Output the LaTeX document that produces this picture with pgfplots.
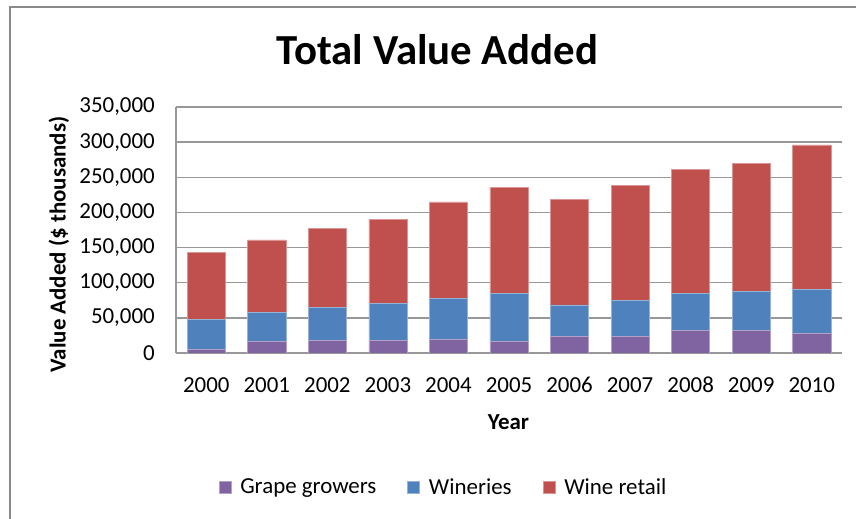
\documentclass[border=0pt]{standalone}
\usepackage{pgfplots}
\pgfplotsset{compat=1.18}
\usepackage{pgfplotstable}
\usepackage{fontspec}
\setmainfont{Carlito}
\definecolor{cgrape}{HTML}{8064A2}
\definecolor{cwinery}{HTML}{4F81BD}
\definecolor{cretail}{HTML}{C0504D}
\definecolor{cgrid}{HTML}{989898}
\pgfplotstableread{
x year grape wineries retail
0 2000 5000 43000 95000
1 2001 16000 42000 103000
2 2002 17500 47500 112000
3 2003 17500 52500 120000
4 2004 20000 58000 137000
5 2005 16000 68500 151500
6 2006 23600 44800 149600
7 2007 23600 50900 164500
8 2008 32000 52500 176200
9 2009 32000 55800 182200
10 2010 27500 63100 205400
}\datatable
\begin{document}
\begin{tikzpicture}
\useasboundingbox (0,0) rectangle (856bp,519bp);
\draw[color=cgrid!90!black, line width=2bp] (10bp,0) -- (10bp,512bp) -- (856bp,512bp);
\node[anchor=base, font=\fontsize{43}{48}\selectfont\bfseries] at (437.5bp,454bp) {Total Value Added};
\begin{axis}[
  at={(176bp,166bp)}, anchor=south west,
  scale only axis, width=666bp, height=246bp,
  ybar stacked, bar width=0.63,
  xmin=-0.5, xmax=10.5, ymin=0, ymax=350000,
  xtick={0,...,10},
  xticklabels={2000,2001,2002,2003,2004,2005,2006,2007,2008,2009,2010},
  ytick={0,50000,100000,150000,200000,250000,300000,350000},
  scaled y ticks=false,
  /pgf/number format/.cd, fixed, precision=0, 1000 sep={,}, assume math mode=true,
  /pgfplots/.cd,
  axis x line*=bottom, axis y line*=left,
  axis line style={color=cgrid, line width=1.3bp},
  major tick length=0pt,
  ymajorgrids, grid style={color=cgrid, line width=1.3bp},
  ticklabel style={font=\fontsize{23}{27}\selectfont, inner sep=0pt},
  yticklabel style={anchor=east, xshift=-21bp},
  xticklabel style={anchor=base, yshift=-39bp},
  xlabel={Year}, ylabel={Value Added (\$ thousands)},
  xlabel style={at={(axis description cs:0.4992,0)}, anchor=base, yshift=-76bp, font=\fontsize{23}{27}\selectfont\bfseries, inner sep=0pt},
  ylabel style={at={(axis description cs:-0.1757,0.441)}, anchor=center, rotate=0, font=\fontsize{23}{27}\selectfont\bfseries},
  legend style={at={(0.4017,-0.545)}, anchor=center, draw=none, fill=none,
    legend columns=3, font=\fontsize{23}{27}\selectfont,
    /tikz/every even column/.append style={column sep=29bp}},
  legend image code/.code={\fill[#1] (0bp,-6bp) rectangle (12bp,6bp); \path (19bp,0bp);},
]
\addplot[fill=cgrape, draw=cgrape!60!white, line width=0.6bp] table[x=x, y=grape] {\datatable};
\addplot[fill=cwinery, draw=cwinery!60!white, line width=0.6bp] table[x=x, y=wineries] {\datatable};
\addplot[fill=cretail, draw=cretail!60!white, line width=0.6bp] table[x=x, y=retail] {\datatable};
\legend{Grape growers, Wineries, Wine retail}
\end{axis}
\end{tikzpicture}
\end{document}
